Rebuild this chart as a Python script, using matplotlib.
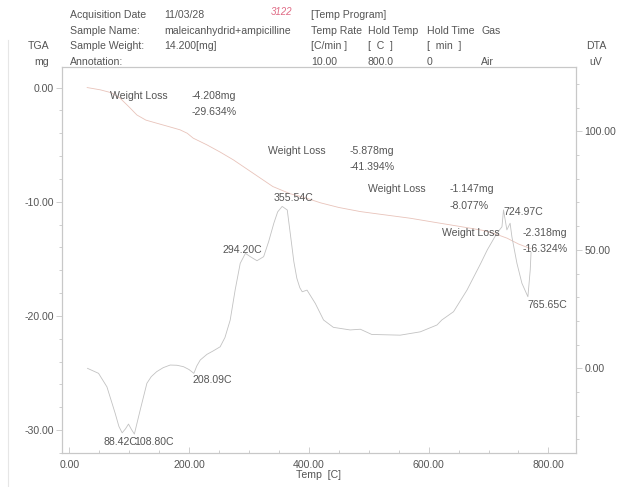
import matplotlib
matplotlib.use("Agg")
import matplotlib.pyplot as plt
from matplotlib.ticker import MultipleLocator, FixedLocator
from matplotlib.lines import Line2D

plt.rcParams['font.family'] = ['Liberation Sans', 'DejaVu Sans']

# TGA trace: temperature [C] vs. mass change [mg]
tga_temp = [30, 52, 70, 85, 100, 113, 128, 146, 165, 185, 197, 207, 230, 252,
            274, 307, 340, 369, 391, 420, 450, 486, 520, 569, 610, 653, 690,
            708, 731, 750, 770]
tga_mg = [0.0, -0.2, -0.45, -0.93, -1.7, -2.4, -2.85, -3.12, -3.4, -3.7, -4.0,
          -4.43, -5.02, -5.65, -6.33, -7.5, -8.67, -9.3, -9.6, -10.1, -10.5,
          -10.86, -11.1, -11.44, -11.8, -12.17, -12.5, -12.75, -13.19, -13.7,
          -14.1]

# DTA trace: temperature [C] vs. signal [uV]
dta_temp = [30.6, 49, 63, 76.8, 83, 88.4, 94, 99, 104, 108.8, 118.5, 129.7,
            137, 146, 157, 168.6, 180, 190.8, 200, 208.1, 213, 218.7, 229.9,
            240, 252, 260, 268.8, 277, 285.5, 294.2, 303, 313.5, 324.6, 333,
            341.6, 348, 355.5, 364, 370, 375, 380, 385, 389, 397, 410.8, 424.6,
            441, 469, 486, 505, 552.6, 586, 614, 622, 641.6, 664, 687, 698,
            714, 722.4, 725, 730.6, 736, 739, 747.4, 755.7, 765.7, 769.6, 771]
dta_uv = [0.0, -2.1, -7.8, -19, -24.5, -27.2, -25.5, -23.5, -25.8, -27.7,
          -17.6, -6.3, -3.5, -1.4, 0.3, 1.4, 1.3, 0.7, -0.5, -2.1, 1.0, 3.5,
          5.9, 7.3, 9.1, 13.0, 20.4, 33, 44.3, 48.5, 47, 45.4, 47.1, 53.5,
          61.2, 66.0, 68.3, 66.8, 55, 45, 38, 34, 32.3, 33, 27.4, 20.4, 17.3,
          16.2, 16.5, 14.3, 14, 15.4, 18.3, 20.4, 23.9, 33, 44.3, 50, 57, 59.7,
          66.8, 58.4, 61.2, 55.5, 44.3, 35.9, 30.2, 41.5, 49]

# Peak temperatures marked on the DTA trace
peak_temps = [88.42, 108.80, 208.09, 294.20, 355.54, 724.97, 765.65]
peak_uv = [-27.2, -27.7, -2.1, 48.5, 68.3, 66.8, 30.2]

# Weight-loss steps
loss_mg = [-4.208, -5.878, -1.147, -2.318]
loss_pct = [-29.634, -41.394, -8.077, -16.324]

x_ticks = [0, 200, 400, 600, 800]
tga_ticks = [0, -10, -20, -30]
dta_ticks = [0, 50, 100]

W, H = 621, 487
TXT = '#555555'
AXC = '#c8c8c8'
FS = 7.6

fig = plt.figure(figsize=(W / 100, H / 100), dpi=100)
L, R, T, B = 62, 576, 67, 453
ax = fig.add_axes([L / W, 1 - B / H, (R - L) / W, (B - T) / H])
ax2 = ax.twinx()

ax.plot(tga_temp, tga_mg, color='#e8c3ba', lw=0.6)
ax2.plot(dta_temp, dta_uv, color='#c2c2c2', lw=0.6)

ax.set_xlim(-12, 846)
ax.set_ylim(-32, 1.8)
ax2.set_ylim(-35.7, 127.1)

ax.xaxis.set_major_locator(FixedLocator(x_ticks))
ax.xaxis.set_minor_locator(MultipleLocator(50))
ax.yaxis.set_major_locator(FixedLocator(tga_ticks))
ax.yaxis.set_minor_locator(MultipleLocator(2))
ax2.yaxis.set_major_locator(FixedLocator(dta_ticks))
ax2.yaxis.set_minor_locator(MultipleLocator(10))
ax.set_xticklabels([f"{v:.2f}" for v in x_ticks])
ax.set_yticklabels([f"{v:.2f}" for v in tga_ticks])
ax2.set_yticklabels([f"{v:.2f}" for v in dta_ticks])

for a in (ax, ax2):
    for s in a.spines.values():
        s.set_color(AXC)
        s.set_linewidth(0.8)
    a.tick_params(which='major', length=4, width=0.6, color=AXC,
                  labelsize=FS, labelcolor=TXT, pad=2)
    a.tick_params(which='minor', length=2.5, width=0.6, color=AXC)
ax.tick_params(axis='x', which='both', direction='in')
ax.tick_params(axis='x', which='major', pad=5)

ax.set_xlabel('Temp  [C]', fontsize=FS, color=TXT, labelpad=0)

# Peak temperature labels (offsets in pixels from the peak point)
peak_offsets = [(-19, -9), (0, -7.7), (-1, -6.7), (-22.5, 3.4), (-9, 8.4),
                (0, -1.7), (0, -8.3)]
for t, v, off in zip(peak_temps, peak_uv, peak_offsets):
    ax2.annotate(f"{t:.2f}C", (t, v), xytext=off, textcoords='offset pixels',
                 fontsize=FS, color=TXT, ha='left', va='center')

# Weight-loss annotations (pixel positions on the page)
loss_pos = [(110, 95.7, 191.7), (268.3, 151, 349.3), (368.3, 189.3, 449.3),
            (441.7, 232.7, 522.7)]


def ptext(x, y, s, **kw):
    kw.setdefault('fontsize', FS)
    kw.setdefault('color', TXT)
    kw.setdefault('va', 'center')
    fig.text(x / W, 1 - y / H, s, **kw)


for (xl, y, xv), mg, pct in zip(loss_pos, loss_mg, loss_pct):
    ptext(xl, y, 'Weight Loss')
    ptext(xv, y, f"{mg:.3f}mg")
    ptext(xv, y + 16.5, f"{pct:.3f}%")

# Header block
ptext(70, 15, 'Acquisition Date')
ptext(164, 15, '11/03/28')
ptext(70, 31, 'Sample Name:')
ptext(164, 31, 'maleicanhydrid+ampicilline')
ptext(70, 46, 'Sample Weight:')
ptext(164, 46, '14.200[mg]')
ptext(70, 62, 'Annotation:')
ptext(271, 12, '3122', color='#e06c86', fontsize=7, style='italic')

ptext(311, 15, '[Temp Program]')
ptext(311, 31, 'Temp Rate')
ptext(368, 31, 'Hold Temp')
ptext(427, 31, 'Hold Time')
ptext(481, 31, 'Gas')
ptext(311, 46, '[C/min ]')
ptext(368, 46, '[  C  ]')
ptext(427, 46, '[  min  ]')
ptext(311, 62, '10.00')
ptext(368, 62, '800.0')
ptext(427, 62, '0')
ptext(481, 62, 'Air')

ptext(39, 46, 'TGA', ha='center')
ptext(42, 62, 'mg', ha='center')
ptext(596, 46, 'DTA', ha='center')
ptext(596, 62, 'uV', ha='center')

# Faint page edge on the left
fig.add_artist(Line2D([8 / W, 8 / W], [0, 1 - 40 / H], color='#e6e6e6',
                      lw=0.8, transform=fig.transFigure))

fig.savefig('out.png', dpi=100, facecolor='white')
